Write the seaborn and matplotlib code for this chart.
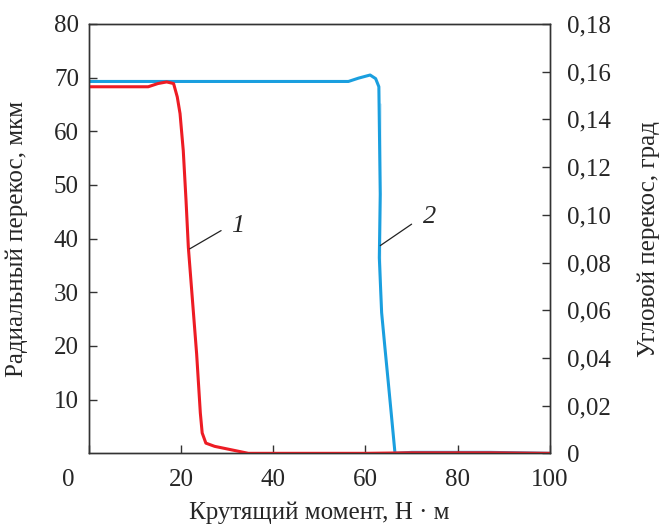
import matplotlib
matplotlib.use("Agg")
import matplotlib.pyplot as plt
import seaborn as sns
import pandas as pd

# curve 1: radial misalignment, um (left axis)
torque_1 = [0, 12.9, 15.0, 16.9, 18.4, 19.2, 19.8, 20.5, 21.1, 21.6, 23.4, 24.2, 24.6, 25.4, 27.3, 31.8, 34.6, 60, 70, 87, 100]
radial_1 = [68.3, 68.3, 68.9, 69.2, 68.9, 66.4, 63.3, 56.4, 47.1, 38.4, 18.5, 7.5, 3.8, 1.9, 1.3, 0.5, 0.0, 0.0, 0.1, 0.1, 0.0]

# curve 2: angular misalignment, deg (right axis)
torque_2 = [0, 56.3, 58.5, 61.0, 62.2, 62.9, 63.2, 63.2, 63.0, 63.0, 63.2, 63.5, 64.2, 64.9, 65.6, 66.4, 70, 87, 100]
angular_2 = [0.1559, 0.1559, 0.1573, 0.1586, 0.1571, 0.1537, 0.1467, 0.1143, 0.0900, 0.0740, 0.0650, 0.0590,
             0.0446, 0.0306, 0.0164, 0.0, 0.0004, 0.0004, 0.0]

left_ticks = [10, 20, 30, 40, 50, 60, 70, 80]
right_ticks = [0, 0.02, 0.04, 0.06, 0.08, 0.10, 0.12, 0.14, 0.16, 0.18]
x_ticks = [0, 20, 40, 60, 80, 100]

red = "#ed1c24"
blue = "#1a9fdf"
axcol = "#333333"

sns.set_style("ticks")
plt.rcParams["font.family"] = ["Liberation Serif", "DejaVu Serif"]
plt.rcParams["font.size"] = 18

df1 = pd.DataFrame({"x": torque_1, "y": radial_1})
df2 = pd.DataFrame({"x": torque_2, "y": angular_2})

fig, ax = plt.subplots(figsize=(6.59, 5.27), dpi=100)
fig.subplots_adjust(left=0.1346, right=0.8346, top=0.9545, bottom=0.1398)
ax2 = ax.twinx()

sns.lineplot(data=df2, x="x", y="y", ax=ax2, color=blue, lw=2.2, sort=False)
sns.lineplot(data=df1, x="x", y="y", ax=ax, color=red, lw=2.2, sort=False)

# red curve drawn over the blue one
ax.set_zorder(ax2.get_zorder() + 1)
ax.patch.set_visible(False)

ax.set_xlim(0, 100)
ax.set_ylim(0, 80)
ax2.set_ylim(0, 0.18)

ax.set_xticks(x_ticks)
ax.set_xticklabels([""] + [str(v) for v in x_ticks[1:]])
ax.set_yticks(left_ticks)
ax.set_yticklabels([str(v) for v in left_ticks])
ax2.set_yticks(right_ticks)
ax2.set_yticklabels(["0" if v == 0 else f"{v:.2f}".replace(".", ",") for v in right_ticks])

for a in (ax, ax2):
    a.tick_params(direction="in", length=6, width=1, color=axcol, labelsize=18)
    for s in a.spines.values():
        s.set_visible(True)
        s.set_color(axcol)
        s.set_linewidth(1.0)
ax.tick_params(axis="x", pad=11)
ax.tick_params(axis="y", pad=7)
ax2.tick_params(axis="y", pad=12)

ax.annotate("0", xy=(0, 0), xycoords="axes fraction", xytext=(-20, -16),
            textcoords="offset pixels", ha="center", va="top", fontsize=18)

ax.set_xlabel("Крутящий момент, Н · м", fontsize=18, labelpad=8)
ax.set_ylabel("Радиальный перекос, мкм", fontsize=18)
ax2.set_ylabel("Угловой перекос, град", fontsize=18)
ax.yaxis.set_label_coords(-0.131, 0.5)
ax2.yaxis.set_label_coords(1.189, 0.5)

# curve labels with leader lines
ax.plot([21.9, 28.7], [38.1, 41.5], color="#222222", lw=0.9)
ax.text(32.4, 42.4, "1", fontstyle="italic", fontsize=19, va="center", ha="center")
ax.plot([63.2, 70.0], [38.7, 42.7], color="#222222", lw=0.9)
ax.text(73.9, 44.0, "2", fontstyle="italic", fontsize=19, va="center", ha="center")

fig.savefig("out.png", dpi=100)
